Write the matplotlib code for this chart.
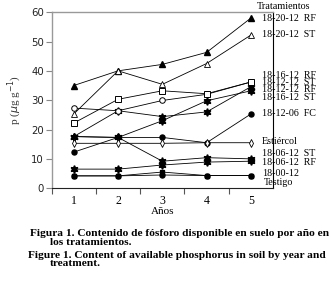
import matplotlib
matplotlib.use('Agg')
import matplotlib.pyplot as plt

# Years and available P (ug/g) per treatment
years = [1, 2, 3, 4, 5]

rf_18_20_12 = [35, 40, 42.2, 46.3, 58]
st_18_20_12 = [25.3, 40, 35.4, 42.5, 52.2]
rf_18_16_12 = [27.3, 26.4, 29.9, 32, 36.2]
st_18_12_12 = [22.2, 30.3, 33.2, 32.2, 36.2]
rf_18_12_12 = [17.6, 17.3, 23.0, 29.8, 33.2]
st_18_16_12 = [17.6, 26.4, 24.4, 26.0, 34.6]
fc_18_12_06 = [12.3, 17.3, 17.3, 15.5, 25.3]
estiercol = [15.3, 15.3, 15.3, 15.5, 15.5]
st_18_06_12 = [17.6, 17.3, 9.2, 10.4, 10.0]
rf_18_06_12 = [6.5, 6.5, 7.9, 8.9, 9.2]
n_18_00_12 = [4.2, 4.2, 5.5, 4.3, 4.3]
testigo = [4.2, 4.2, 4.5, 4.3, 4.3]

legend_names = ['18-20-12  RF', '18-20-12  ST', '18-16-12  RF', '18-12-12  ST',
                '18-12-12  RF', '18-16-12  ST', '18-12-06  FC', 'Estiércol',
                '18-06-12  ST', '18-06-12  RF', '18-00-12', 'Testigo']
legend_y = [57.9, 52.3, 38.3, 36.1, 33.5, 30.8, 25.6, 15.9, 11.7, 8.7, 4.9, 1.9]

SERIF = 'Liberation Serif'
star = (6, 1, 0)

fig = plt.figure(figsize=(3.31, 2.83), dpi=100)
ax = fig.add_axes([0.156, 0.335, 0.669, 0.622])

line_kw = dict(color='black', linewidth=0.6)
# filled markers first, open ones on top
ax.plot(years, testigo, marker='o', ms=3.6, mfc='black', mec='black', **line_kw)
ax.plot(years, n_18_00_12, marker='s', ms=3.4, mfc='black', mec='black', **line_kw)
ax.plot(years, rf_18_06_12, marker=star, ms=5.5, mfc='black', mec='black', **line_kw)
ax.plot(years, st_18_06_12, marker=star, ms=5.5, mfc='black', mec='black', **line_kw)
ax.plot(years, fc_18_12_06, marker='o', ms=3.6, mfc='black', mec='black', **line_kw)
ax.plot(years, st_18_16_12, marker=star, ms=5.5, mfc='black', mec='black', **line_kw)
ax.plot(years, rf_18_12_12, marker=star, ms=5.5, mfc='black', mec='black', **line_kw)
ax.plot(years, rf_18_20_12, marker='^', ms=4, mfc='black', mec='black', **line_kw)
ax.plot(years, estiercol, marker='d', ms=4, mfc='white', mec='black', mew=0.6, **line_kw)
ax.plot(years, rf_18_16_12, marker='o', ms=4, mfc='white', mec='black', mew=0.7, **line_kw)
ax.plot(years, st_18_12_12, marker='s', ms=3.8, mfc='white', mec='black', mew=0.7, **line_kw)
ax.plot(years, st_18_20_12, marker='^', ms=4, mfc='white', mec='black', mew=0.6, **line_kw)

ax.set_xlim(0.5, 5.5)
ax.set_ylim(0, 60)
ax.set_xticks([0.5, 1.5, 2.5, 3.5, 4.5])
ax.set_xticklabels([])
ax.set_xticks(years, minor=True)
ax.set_xticklabels([str(y) for y in years], minor=True, family=SERIF, fontsize=8.5)
ax.tick_params(axis='x', which='major', direction='out', length=4, width=0.8, color='#555555')
ax.tick_params(axis='x', which='minor', length=0, pad=5)
ax.set_yticks(range(0, 61, 10))
ax.tick_params(axis='y', direction='out', length=4, width=0.8, color='#888888',
               labelsize=7.3, pad=1.5, labelcolor='#222222')

for side in ['left', 'top']:
    ax.spines[side].set_color('#999999')
    ax.spines[side].set_linewidth(1.0)
ax.spines['bottom'].set_color('#222222')
ax.spines['right'].set_color('black')
ax.spines['right'].set_linewidth(0.8)

ax.set_xlabel('Años', family=SERIF, fontsize=8, labelpad=0)
ax.set_ylabel(r'p ($\mu$g g$^{-1}$)', family=SERIF, fontsize=8, labelpad=5, color='#333333')

ax.text(5.14, 61.9, 'Tratamientos', family=SERIF, fontsize=7.3, va='center', clip_on=False)
for name, ypos in zip(legend_names, legend_y):
    xpos = 5.30 if name == 'Testigo' else 5.25
    ax.text(xpos, ypos, name, family=SERIF, fontsize=7.2, va='center', clip_on=False)

cap_kw = dict(family=SERIF, fontsize=8.2, fontweight='bold', va='center')
fig.text(30 / 331, 1 - 233 / 283, 'Figura 1. Contenido de fósforo disponible en suelo por año en', **cap_kw)
fig.text(50 / 331, 1 - 242.7 / 283, 'los tratamientos.', **cap_kw)
fig.text(28 / 331, 1 - 255 / 283, 'Figure 1. Content of available phosphorus in soil by year and', **cap_kw)
fig.text(50 / 331, 1 - 264 / 283, 'treatment.', **cap_kw)

fig.savefig('out.png', dpi=100, facecolor='white')
